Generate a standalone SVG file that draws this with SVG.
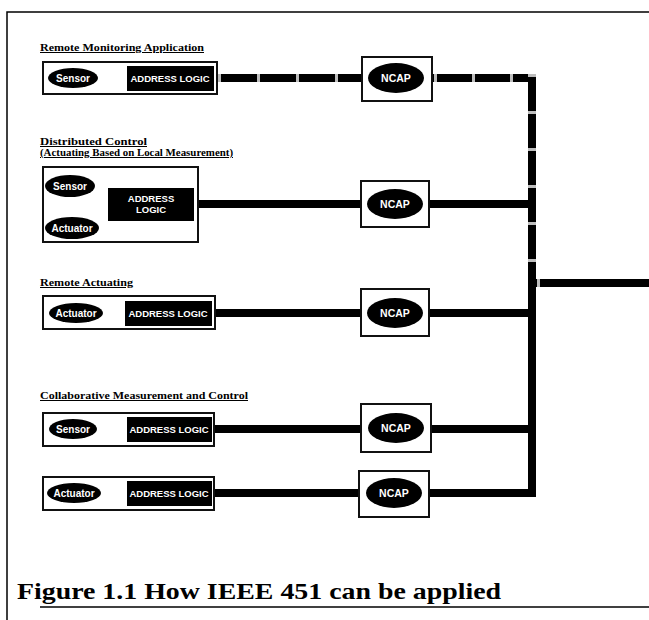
<svg xmlns="http://www.w3.org/2000/svg" width="649" height="620" viewBox="0 0 649 620">
<style>
.frame{stroke:#000;stroke-width:1.5;fill:none}
.box{fill:#fff;stroke:#111;stroke-width:2}
.blk{fill:#000}
.wire{stroke:#000;stroke-width:8;fill:none}
.thin{stroke:#000;stroke-width:1.5;fill:none}
.hatch{fill:#bdbdbd}
.lbl{font-family:"Liberation Serif",serif;font-weight:bold;font-size:10px;text-decoration:underline;fill:#000}
.w{font-family:"Liberation Sans",Arial,sans-serif;font-weight:bold;font-size:9.5px;fill:#fff;text-anchor:middle}
.e{font-size:10px}
.cap{font-family:"Liberation Serif",serif;font-weight:bold;font-size:24px;fill:#000}
</style>
<rect width="649" height="620" fill="#fff"/>
<path class="frame" d="M7,620 V12 H649"/>
<path class="frame" d="M40,607 H649"/>

<text class="lbl" x="40" y="51" textLength="164" lengthAdjust="spacingAndGlyphs">Remote Monitoring Application</text>
<text class="lbl" x="40" y="145" textLength="107" lengthAdjust="spacingAndGlyphs">Distributed Control</text>
<text class="lbl" x="40" y="156" textLength="193" lengthAdjust="spacingAndGlyphs">(Actuating Based on Local Measurement)</text>
<text class="lbl" x="40" y="286" textLength="93" lengthAdjust="spacingAndGlyphs">Remote Actuating</text>
<text class="lbl" x="40" y="399" textLength="208" lengthAdjust="spacingAndGlyphs">Collaborative Measurement and Control</text>

<g id="connectors">
<path class="wire" d="M216,78 H362"/>
<path class="wire" d="M432,78 H532 V497"/>
<path class="wire" d="M198,204 H361"/>
<path class="wire" d="M429,204 H532"/>
<path class="wire" d="M214,313 H361"/>
<path class="wire" d="M429,313 H532"/>
<path class="wire" d="M214,429 H361"/>
<path class="wire" d="M431,429 H532"/>
<path class="wire" d="M214,493 H359"/>
<path class="wire" d="M429,493 H536"/>
<path class="wire" d="M536,283 H649"/>
<path class="thin" d="M98,78 H127"/>
<path class="thin" d="M96,190 L108,198"/>
<path class="thin" d="M100,225 L108,216"/>
<path class="thin" d="M104,313 H125"/>
<path class="thin" d="M98,429 H127"/>
<path class="thin" d="M102,493 H127"/>
<g class="hatch">
<rect x="218" y="74" width="3" height="8"/>
<rect x="257" y="74" width="3" height="8"/>
<rect x="296" y="74" width="3" height="8"/>
<rect x="335" y="74" width="3" height="8"/>
<rect x="434" y="74" width="3" height="8"/>
<rect x="472" y="74" width="3" height="8"/>
<rect x="510" y="74" width="3" height="8"/>
<rect x="528" y="74" width="8" height="3"/>
<rect x="528" y="111" width="8" height="3"/>
<rect x="528" y="148" width="8" height="3"/>
<rect x="528" y="185" width="8" height="3"/>
<rect x="528" y="222" width="8" height="3"/>
<rect x="528" y="259" width="8" height="3"/>
<rect x="537" y="279" width="3" height="8"/>
</g>
</g>

<g id="node-r1">
<rect class="box" x="43" y="62" width="174" height="32"/>
<ellipse class="blk" cx="73" cy="78" rx="25" ry="10"/>
<text class="w e" x="73" y="81.5">Sensor</text>
<rect class="blk" x="127" y="66" width="87" height="25"/>
<text class="w" x="170" y="81.5">ADDRESS LOGIC</text>
</g>
<g id="ncap-r1">
<rect class="box" x="362" y="57" width="70" height="44"/>
<ellipse class="blk" cx="396" cy="78" rx="28" ry="15"/>
<text class="w" x="396" y="82" style="font-size:10.5px">NCAP</text>
</g>

<g id="node-r2">
<rect class="box" x="43" y="167" width="155" height="75"/>
<ellipse class="blk" cx="70" cy="186" rx="25" ry="11"/>
<text class="w e" x="70" y="189.5">Sensor</text>
<ellipse class="blk" cx="72" cy="228" rx="27" ry="11"/>
<text class="w e" x="72" y="231.5">Actuator</text>
<rect class="blk" x="108" y="188" width="86" height="33"/>
<text class="w" x="151" y="202">ADDRESS</text>
<text class="w" x="151" y="213">LOGIC</text>
</g>
<g id="ncap-r2">
<rect class="box" x="361" y="181" width="68" height="46"/>
<ellipse class="blk" cx="395" cy="204" rx="28" ry="15"/>
<text class="w" x="395" y="208" style="font-size:10.5px">NCAP</text>
</g>

<g id="node-r3">
<rect class="box" x="43" y="296" width="172" height="33"/>
<ellipse class="blk" cx="76" cy="313" rx="27" ry="10"/>
<text class="w e" x="76" y="316.5">Actuator</text>
<rect class="blk" x="125" y="301" width="87" height="25"/>
<text class="w" x="168" y="316.5">ADDRESS LOGIC</text>
</g>
<g id="ncap-r3">
<rect class="box" x="361" y="289" width="68" height="47"/>
<ellipse class="blk" cx="395" cy="313" rx="28" ry="15"/>
<text class="w" x="395" y="317" style="font-size:10.5px">NCAP</text>
</g>

<g id="node-r4">
<rect class="box" x="43" y="413" width="171" height="33"/>
<ellipse class="blk" cx="73" cy="429" rx="24" ry="10"/>
<text class="w e" x="73" y="432.5">Sensor</text>
<rect class="blk" x="127" y="417" width="85" height="25"/>
<text class="w" x="169" y="432.5">ADDRESS LOGIC</text>
</g>
<g id="ncap-r4">
<rect class="box" x="361" y="404" width="70" height="48"/>
<ellipse class="blk" cx="396" cy="428" rx="28" ry="15"/>
<text class="w" x="396" y="432" style="font-size:10.5px">NCAP</text>
</g>

<g id="node-r5">
<rect class="box" x="43" y="477" width="171" height="33"/>
<ellipse class="blk" cx="74" cy="493" rx="27" ry="10"/>
<text class="w e" x="74" y="496.5">Actuator</text>
<rect class="blk" x="127" y="481" width="85" height="25"/>
<text class="w" x="169" y="496.5">ADDRESS LOGIC</text>
</g>
<g id="ncap-r5">
<rect class="box" x="359" y="471" width="70" height="46"/>
<ellipse class="blk" cx="394" cy="493" rx="28" ry="15"/>
<text class="w" x="394" y="497" style="font-size:10.5px">NCAP</text>
</g>

<text class="cap" x="17" y="599" textLength="484" lengthAdjust="spacingAndGlyphs">Figure 1.1 How IEEE 451 can be applied</text>
</svg>
